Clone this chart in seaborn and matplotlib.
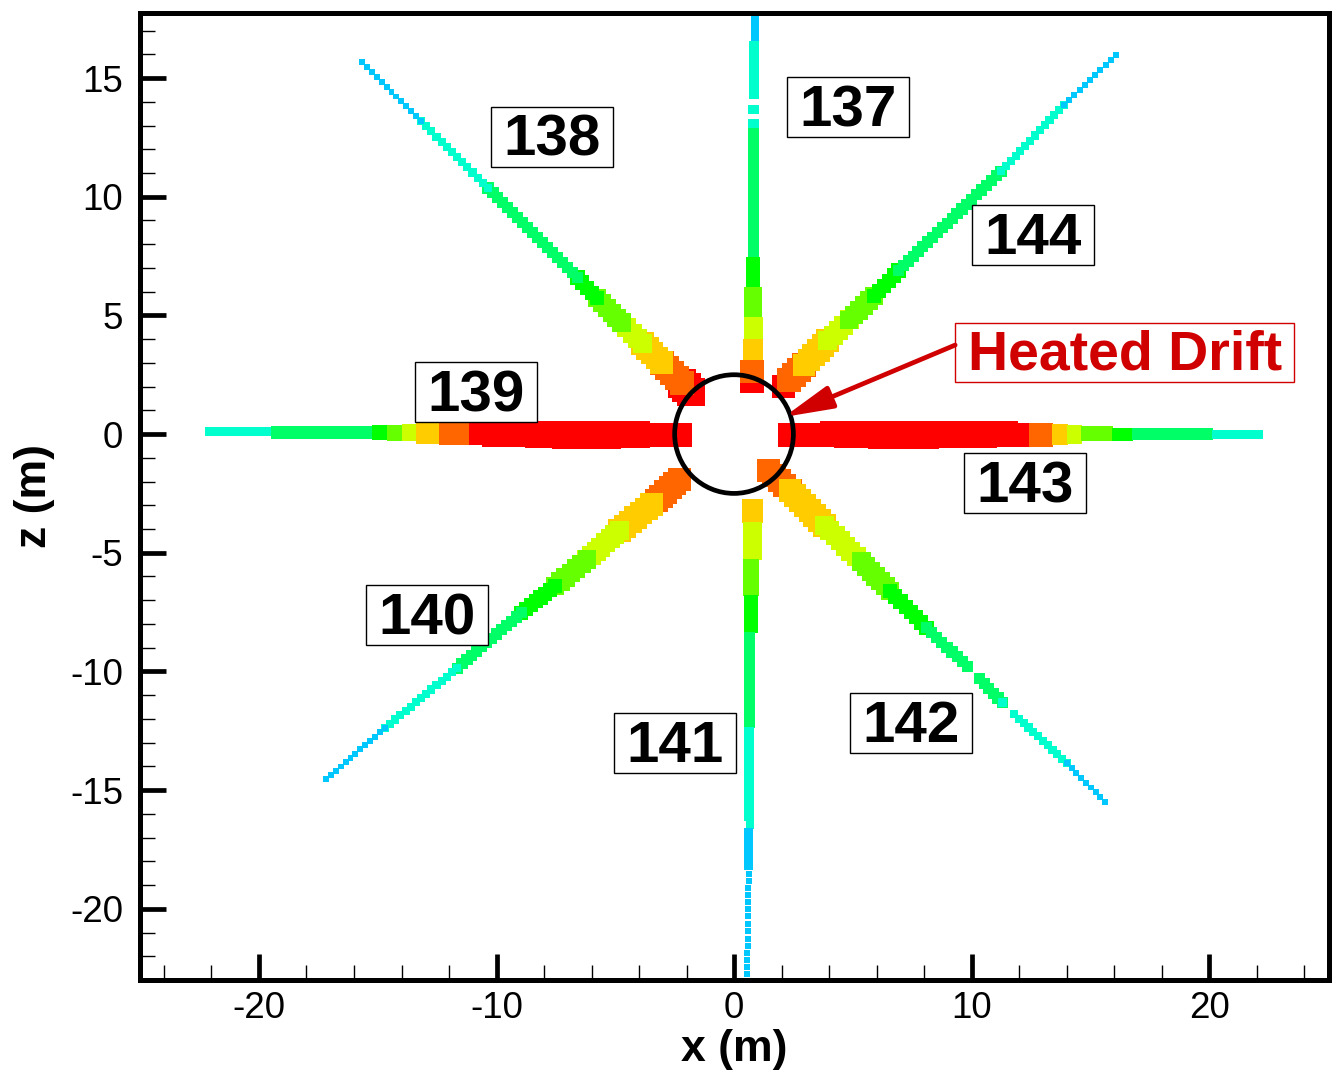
import numpy as np
import matplotlib
matplotlib.use('Agg')
import matplotlib.pyplot as plt
from matplotlib.patches import Circle, Rectangle
from matplotlib.ticker import MultipleLocator
import seaborn as sns

# contour colours, cold to hot
colors = {'blue': '#00c8ff', 'cyan': '#00ffcc', 'green': '#00ff66', 'dark': '#00ff00',
          'lime': '#66ff00', 'ylime': '#ccff00', 'yellow': '#ffcc00', 'orange': '#ff6600',
          'red': '#ff0000'}

# diagonal boreholes: band edges from the tip inwards (m), width and colour per band
x138 = [-15.79, -13.05, -10.19, -6.36, -5.47, -4.34, -3.45, -2.57, -1.68, -1.22]
z138 = [15.80, 13.06, 10.20, 6.36, 5.44, 4.30, 3.41, 2.53, 1.64, 1.18]
w138 = [0.25, 0.34, 0.47, 0.60, 0.78, 0.80, 0.95, 1.00, 1.20]
c138 = ['blue', 'cyan', 'green', 'dark', 'lime', 'ylime', 'yellow', 'orange', 'red']

x144 = [16.21, 13.77, 11.07, 6.69, 5.60, 4.46, 3.54, 2.48, 1.81, 1.60]
z144 = [16.10, 13.74, 10.91, 6.66, 5.52, 4.42, 3.54, 2.44, 1.77, 1.52]
w144 = [0.25, 0.34, 0.47, 0.60, 0.78, 0.80, 0.95, 1.00, 0.97]
c144 = ['blue', 'cyan', 'green', 'dark', 'lime', 'ylime', 'yellow', 'orange', 'red']

x140 = [-17.31, -14.57, -11.49, -8.72, -7.24, -5.81, -4.42, -2.99, -1.81]
z140 = [-14.67, -12.26, -9.69, -7.29, -6.11, -4.89, -3.67, -2.49, -1.43]
w140 = [0.25, 0.34, 0.47, 0.60, 0.78, 0.80, 0.95, 0.97]
c140 = ['blue', 'cyan', 'green', 'dark', 'lime', 'ylime', 'yellow', 'orange']

x142 = [15.75, 13.89, 11.62, 11.49, 11.12, 10.11, 10.06, 7.87, 6.27, 4.97, 3.41, 1.89, 0.97]
z142 = [-15.63, -13.74, -11.63, -11.50, -11.13, -10.07, -10.03, -7.92, -6.32, -4.97, -3.46, -1.90, -1.05]
w142 = [0.25, 0.34, 0, 0.38, 0.47, 0, 0.47, 0.60, 0.78, 0.80, 0.95, 0.97]
c142 = ['blue', 'cyan', None, 'cyan', 'green', None, 'green', 'dark', 'lime', 'ylime', 'yellow', 'orange']

# straight boreholes: edges along the hole (m), then low and high side per band
z137 = [17.74, 16.56, 14.12, 13.86, 13.49, 13.27, 12.89, 7.46, 6.19, 4.93, 4.00, 3.08, 2.11, 1.77]
lo137 = [0.72, 0.67, 0, 0.63, 0, 0.63, 0.59, 0.51, 0.46, 0.42, 0.38, 0.29, 0.29]
hi137 = [1.01, 1.01, 0, 1.01, 0, 1.01, 1.05, 1.09, 1.14, 1.18, 1.22, 1.26, 1.26]
c137 = ['blue', 'cyan', None, 'cyan', None, 'cyan', 'green', 'dark', 'lime', 'ylime', 'yellow', 'orange', 'red']

z141 = [-2.74, -3.71, -5.27, -6.78, -8.34, -12.35, -16.27, -16.31, -16.60, -18.33]
lo141 = [0.34, 0.38, 0.38, 0.42, 0.46, 0.46, 0, 0.51, 0.46]
hi141 = [1.18, 1.14, 1.05, 0.97, 0.88, 0.80, 0, 0.80, 0.76]
c141 = ['yellow', 'ylime', 'lime', 'dark', 'green', 'cyan', None, 'cyan', 'blue']

x139 = [-22.27, -19.49, -15.24, -14.61, -13.94, -13.35, -12.38, -11.12, -10.60, -8.80, -7.65, -4.80, -3.54, -1.81]
lo139 = [-0.04, -0.17, -0.21, -0.29, -0.29, -0.38, -0.42, -0.46, -0.51, -0.55, -0.59, -0.55, -0.51]
hi139 = [0.29, 0.34, 0.38, 0.38, 0.42, 0.46, 0.46, 0.46, 0.55, 0.55, 0.55, 0.51, 0.46]
c139 = ['cyan', 'green', 'dark', 'lime', 'ylime', 'yellow', 'orange', 'red', 'red', 'red', 'red', 'red', 'red']

x143 = [1.89, 3.62, 4.25, 4.80, 5.68, 8.63, 11.07, 11.92, 12.42, 13.39, 14.02, 14.65, 15.92, 16.76, 20.13, 22.27]
lo143 = [-0.51, -0.51, -0.55, -0.55, -0.59, -0.55, -0.51, -0.51, -0.51, -0.42, -0.38, -0.29, -0.29, -0.21, -0.17]
hi143 = [0.46, 0.51, 0.51, 0.55, 0.55, 0.55, 0.55, 0.46, 0.46, 0.42, 0.38, 0.34, 0.25, 0.25, 0.17]
c143 = ['red', 'red', 'red', 'red', 'red', 'red', 'red', 'red', 'orange', 'yellow', 'ylime', 'lime', 'dark', 'green', 'cyan']

# separate cells at the end of hole 141
z141_cells = [-18.54, -18.84, -19.13, -19.43, -19.72, -20.02, -20.31, -20.65, -20.94,
              -21.26, -21.55, -21.85, -22.14, -22.44, -22.74]
x141_cells = [0.63, 0.63, 0.59, 0.59, 0.59, 0.59, 0.59, 0.59, 0.59, 0.57, 0.57, 0.55, 0.55, 0.55, 0.55]

# label boxes
box_names = ['137', '138', '139', '140', '141', '142', '143', '144']
box_x = [4.80, -7.66, -10.86, -12.93, -2.48, 7.45, 12.25, 12.59]
box_z = [13.78, 12.52, 1.77, -7.63, -13.02, -12.18, -2.06, 8.39]

PX_PER_M = 23.75
PT_PER_PX = 0.72
CELL = 0.21  # mesh step of the diagonal holes


def stair_outline(x0, z0, x1, z1, side):
    # outline of a run of mesh squares between two centres
    h = side / 2
    n = max(1, int(round(abs(x1 - x0) / CELL)))
    if x1 < x0:
        x0, z0, x1, z1 = x1, z1, x0, z0
    flip = -1 if z1 < z0 else 1
    cx = np.linspace(x0, x1, n + 1)
    cz = np.linspace(z0, z1, n + 1) * flip
    xs, zs = [], []
    for i in range(n):
        xs += [cx[i] - h, cx[i + 1] - h]
        zs += [cz[i] + h, cz[i] + h]
    xs += [cx[n] - h, cx[n] + h, cx[n] + h]
    zs += [cz[n] + h, cz[n] + h, cz[n] - h]
    for i in range(n - 1, -1, -1):
        xs += [cx[i] + h, cx[i] + h]
        zs += [cz[i + 1] - h, cz[i] - h]
    xs += [cx[0] - h]
    zs += [cz[0] - h]
    return xs, list(np.array(zs) * flip)


def draw_diagonal(ax, x, z, w, c):
    sx = np.sign(x[-1] - x[0])
    sz = np.sign(z[-1] - z[0])
    # inner bands first, the outer ones sit on top of them
    for i in range(len(c) - 1, -1, -1):
        if c[i] is None:
            continue
        h = w[i] / 2
        x0, z0 = x[i], z[i]
        if i == 0 or c[i - 1] is None:
            x0, z0 = x0 + sx * h, z0 + sz * h
        else:
            # run back under the band outside it so the sides join up
            x0, z0 = x0 - sx * w[i - 1] / 2, z0 - sz * w[i - 1] / 2
        x1, z1 = x[i + 1] - sx * h, z[i + 1] - sz * h
        if (x1 - x0) * sx < 0:
            x0, z0 = x1, z1
        xs, zs = stair_outline(x0, z0, x1, z1, w[i])
        ax.fill(xs, zs, color=colors[c[i]], lw=0, antialiased=False, zorder=2)


def draw_straight(ax, edges, lo, hi, c, vertical):
    for i in range(len(c)):
        if c[i] is None:
            continue
        mid = (lo[i] + hi[i]) / 2
        across = [mid, mid]
        along = [edges[i], edges[i + 1]]
        sns.lineplot(x=across if vertical else along, y=along if vertical else across,
                     color=colors[c[i]], linewidth=(hi[i] - lo[i]) * PX_PER_M * PT_PER_PX,
                     solid_capstyle='butt', snap=False, antialiased=False,
                     sort=False, estimator=None, ax=ax, legend=False)


sns.set_style('white')
plt.rcParams['font.family'] = ['Liberation Sans', 'DejaVu Sans']
plt.rcParams['axes.unicode_minus'] = False
plt.rcParams['text.color'] = 'black'
plt.rcParams['axes.labelcolor'] = 'black'
plt.rcParams['xtick.color'] = 'black'
plt.rcParams['ytick.color'] = 'black'

fig = plt.figure(figsize=(13.34, 10.78), dpi=100)
ax = fig.add_axes([140 / 1334, 98 / 1078, 1189 / 1334, 967 / 1078])

draw_straight(ax, z137, lo137, hi137, c137, True)
draw_straight(ax, z141, lo141, hi141, c141, True)
draw_straight(ax, x139, lo139, hi139, c139, False)
draw_straight(ax, x143, lo143, hi143, c143, False)
sns.scatterplot(x=x141_cells, y=z141_cells, color=colors['blue'], marker='s', s=17,
                linewidth=0, ax=ax, legend=False)

draw_diagonal(ax, x138, z138, w138, c138)
draw_diagonal(ax, x144, z144, w144, c144)
draw_diagonal(ax, x140, z140, w140, c140)
draw_diagonal(ax, x142, z142, w142, c142)

# the drift
ax.add_patch(Circle((0, 0), 2.5, fill=False, edgecolor='black', lw=3.4, zorder=4))

for name, bx, bz in zip(box_names, box_x, box_z):
    ax.add_patch(Rectangle((bx - 2.57, bz - 1.265), 5.14, 2.53, facecolor='white',
                           edgecolor='black', lw=1.0, zorder=5))
    ax.text(bx, bz - 0.17, name, fontsize=42, fontweight='bold', ha='center', va='center', zorder=6)

drift_red = '#d00000'
ax.add_patch(Rectangle((9.31, 2.21), 14.27, 2.49, facecolor='white', edgecolor=drift_red,
                       lw=1.0, zorder=5))
ax.text(16.47, 3.30, 'Heated Drift', fontsize=40, fontweight='bold', color=drift_red,
        ha='center', va='center', zorder=6)
ax.annotate('', xy=(2.10, 0.72), xytext=(9.31, 3.75), zorder=5,
            arrowprops=dict(arrowstyle='-|>,head_length=2.95,head_width=0.7', lw=3.4,
                            color=drift_red, shrinkA=0, shrinkB=0, mutation_scale=10))

ax.set_xlim(-25.01, 25.05)
ax.set_ylim(-23.0, 17.74)
ax.set_xticks([-20, -10, 0, 10, 20])
ax.set_yticks([-20, -15, -10, -5, 0, 5, 10, 15])
ax.xaxis.set_minor_locator(MultipleLocator(2))
ax.yaxis.set_minor_locator(MultipleLocator(1))
ax.tick_params(which='major', direction='in', length=19, width=3.4, labelsize=26.5, pad=8,
               bottom=True, left=True, top=False, right=False)
ax.tick_params(axis='y', which='major', pad=12)
ax.tick_params(which='minor', direction='in', length=11, width=1.0,
               bottom=True, left=True, top=False, right=False)
for spine in ax.spines.values():
    spine.set_linewidth(3.6)
    spine.set_color('black')
    spine.set_zorder(10)
ax.set_xlabel('x (m)', fontsize=32, fontweight='bold', labelpad=2)
ax.set_ylabel('z (m)', fontsize=32, fontweight='bold', labelpad=11)

plt.savefig('out.png', dpi=100)
